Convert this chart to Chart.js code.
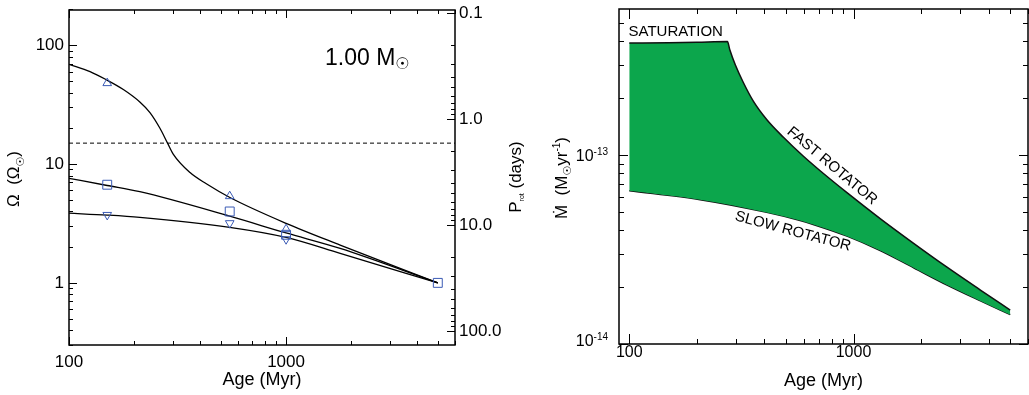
<!DOCTYPE html>
<html>
<head>
<meta charset="utf-8">
<script src="https://cdn.jsdelivr.net/npm/chart.js@4.4.1/dist/chart.umd.min.js"></script>
<style>
    html, body { margin: 0; padding: 0; background: #fff; }
    #wrap { position: relative; width: 1029px; height: 395px; overflow: hidden; }
    #c1 { position: absolute; left: 0; top: 0; }
    #c2 { position: absolute; left: 520px; top: 0; }
</style>
</head>
<body>
<div id="wrap">
    <canvas id="c1" width="540" height="395"></canvas>
    <canvas id="c2" width="509" height="395"></canvas>
</div>
<script>
// ---- left panel: rotation tracks ----
const fastAges = [100, 125, 149, 178, 212, 236, 262, 284, 302, 361, 431, 551, 1000, 1775, 5000];
const fastOmega = [69.2, 60, 51.1, 42.4, 33.3, 27.1, 20.1, 15.09, 12.14, 8.48, 6.79, 5.23, 3.17, 2.08, 1.0];
const mediumAges = [100, 150, 212, 550, 1000, 1775, 5000];
const mediumOmega = [7.59, 6.6, 5.85, 3.64, 2.63, 1.95, 1.0];
const slowAges = [100, 150, 212, 550, 1000, 1775, 5000];
const slowOmega = [3.86, 3.72, 3.56, 2.93, 2.41, 1.77, 1.0];
const saturationAges = [100, 6000];
const saturationOmega = [15, 15];

// observed percentiles (markers)
const upAges = [150, 550, 1000];
const upOmega = [48, 5.37, 2.83];
const squareAges = [150, 550, 1000, 5000];
const squareOmega = [6.7, 3.99, 2.54, 1.0];
const downAges = [150, 550, 1000];
const downOmega = [3.73, 3.18, 2.33];

// ---- right panel: mass loss rates ----
const fastMdotAges = [100, 150, 200, 274, 281, 297, 323, 358, 410, 487, 598, 710, 935, 1315, 1854, 2612, 3681, 5000];
const fastMdot = [3.91e-13, 3.93e-13, 3.95e-13, 3.98e-13, 3.59e-13, 3.0e-13, 2.41e-13, 1.92e-13, 1.54e-13, 1.24e-13, 9.84e-14, 8.25e-14, 6.32e-14, 4.61e-14, 3.41e-14, 2.55e-14, 1.93e-14, 1.51e-14];
const slowMdotAges = [100, 207, 410, 578, 661, 935, 1315, 1854, 2612, 3681, 5000];
const slowMdot = [6.46e-14, 5.8e-14, 4.97e-14, 4.5e-14, 4.29e-14, 3.72e-14, 3.12e-14, 2.53e-14, 2.05e-14, 1.69e-14, 1.43e-14];

// ---- ticks ----
const ageTicks = [100, 200, 300, 400, 500, 600, 700, 800, 900, 1000, 2000, 3000, 4000, 5000, 6000];
const ageMajor = [100, 1000];
const ageLabels = ["100", "1000"];
const omegaTicks = [0.3, 0.4, 0.5, 0.6, 0.7, 0.8, 0.9, 1, 2, 3, 4, 5, 6, 7, 8, 9, 10, 20, 30, 40, 50, 60, 70, 80, 90, 100, 200];
const omegaMajor = [1, 10, 100];
const omegaLabels = ["1", "10", "100"];
const periodTicks = [0.1, 0.2, 0.3, 0.4, 0.5, 0.6, 0.7, 0.8, 0.9, 1, 2, 3, 4, 5, 6, 7, 8, 9, 10, 20, 30, 40, 50, 60, 70, 80, 90, 100];
const periodMajor = [0.1, 1, 10, 100];
const periodLabels = ["0.1", "1.0", "10.0", "100.0"];
const mdotTicks = [1e-14, 2e-14, 3e-14, 4e-14, 5e-14, 6e-14, 7e-14, 8e-14, 9e-14, 1e-13, 2e-13, 3e-13, 4e-13, 5e-13];
const mdotMajor = [1e-14, 1e-13];
const mdotExponents = ["-14", "-13"];

const FONT = '"Liberation Sans", Arial, Helvetica, sans-serif';
const SUN_FONT = '"DejaVu Sans", sans-serif';
const BLUE = "#3b5bb5";
const GREEN = "#0ca64c";

const toPoints = (xs, ys) => xs.map((x, i) => ({ x: x, y: ys[i] }));

// draws text made of pieces with their own size / vertical offset
function drawRich(ctx, parts, x, y, rotation, align) {
    ctx.save();
    ctx.translate(x, y);
    ctx.rotate(rotation);
    ctx.textBaseline = "alphabetic";
    ctx.textAlign = "left";
    let width = 0;
    parts.forEach((p) => {
        ctx.font = `${p.s}px ${p.f || FONT}`;
        width += ctx.measureText(p.t).width;
    });
    let cx = align === "left" ? 0 : -width / 2;
    parts.forEach((p) => {
        ctx.font = `${p.s}px ${p.f || FONT}`;
        ctx.fillText(p.t, cx, p.dy || 0);
        cx += ctx.measureText(p.t).width;
    });
    ctx.restore();
}

function tickMarks(ctx, scale, values, majors, side, area, majorLen, minorLen) {
    values.forEach((v) => {
        const px = Math.round(scale.getPixelForValue(v)) + 0.5;
        const len = majors.includes(v) ? majorLen : minorLen;
        if (side === "bottom") { ctx.moveTo(px, area.bottom); ctx.lineTo(px, area.bottom - len); }
        if (side === "top") { ctx.moveTo(px, area.top); ctx.lineTo(px, area.top + len); }
        if (side === "left") { ctx.moveTo(area.left, px); ctx.lineTo(area.left + len, px); }
        if (side === "right") { ctx.moveTo(area.right, px); ctx.lineTo(area.right - len, px); }
    });
}

const leftDecor = {
    id: "leftDecor",
    afterDraw(chart) {
        const { ctx, chartArea: a, scales: { x, y, p } } = chart;
        ctx.save();
        ctx.strokeStyle = "#000";
        ctx.lineWidth = 1.5;
        ctx.strokeRect(a.left, a.top, a.right - a.left, a.bottom - a.top);
        ctx.lineWidth = 1;
        ctx.beginPath();
        tickMarks(ctx, x, ageTicks, ageMajor, "bottom", a, 8, 4);
        tickMarks(ctx, x, ageTicks, ageMajor, "top", a, 8, 4);
        tickMarks(ctx, y, omegaTicks, omegaMajor, "left", a, 8, 4);
        tickMarks(ctx, p, periodTicks, periodMajor, "right", a, 8, 4);
        ctx.stroke();

        ctx.fillStyle = "#000";
        ctx.font = `17px ${FONT}`;
        ctx.textBaseline = "middle";
        ctx.textAlign = "center";
        ageMajor.forEach((v, i) => ctx.fillText(ageLabels[i], x.getPixelForValue(v), a.bottom + 17));
        ctx.textAlign = "right";
        omegaMajor.forEach((v, i) => ctx.fillText(omegaLabels[i], a.left - 5, y.getPixelForValue(v)));
        ctx.textAlign = "left";
        periodMajor.forEach((v, i) => ctx.fillText(periodLabels[i], a.right + 4, p.getPixelForValue(v)));

        ctx.font = `18px ${FONT}`;
        ctx.textAlign = "center";
        ctx.fillText("Age (Myr)", (a.left + a.right) / 2, 380);

        drawRich(ctx, [
            { t: "Ω  (Ω", s: 17 },
            { t: "☉", s: 11, dy: 5, f: SUN_FONT },
            { t: ")", s: 17 }
        ], 18.5, 179, -Math.PI / 2);

        drawRich(ctx, [
            { t: "P", s: 17 },
            { t: "rot", s: 7, dy: 3 },
            { t: " (days)", s: 17 }
        ], 521, 177, -Math.PI / 2);

        drawRich(ctx, [
            { t: "1.00 M", s: 23 },
            { t: "☉", s: 16, dy: 3.5, f: SUN_FONT }
        ], 325, 65, 0, "left");
        ctx.restore();
    }
};

const rightDecor = {
    id: "rightDecor",
    afterDraw(chart) {
        const { ctx, chartArea: a, scales: { x, y } } = chart;
        ctx.save();
        ctx.strokeStyle = "#000";
        ctx.lineWidth = 1.5;
        ctx.strokeRect(a.left, a.top, a.right - a.left, a.bottom - a.top);
        ctx.lineWidth = 1;
        ctx.beginPath();
        tickMarks(ctx, x, ageTicks, ageMajor, "bottom", a, 10, 5);
        tickMarks(ctx, x, ageTicks, ageMajor, "top", a, 10, 5);
        tickMarks(ctx, y, mdotTicks, mdotMajor, "left", a, 9, 5);
        tickMarks(ctx, y, mdotTicks, mdotMajor, "right", a, 9, 5);
        ctx.stroke();

        ctx.fillStyle = "#000";
        ctx.font = `16px ${FONT}`;
        ctx.textBaseline = "middle";
        ctx.textAlign = "center";
        ageMajor.forEach((v, i) => ctx.fillText(ageLabels[i], x.getPixelForValue(v), a.bottom + 9));

        mdotMajor.forEach((v, i) => {
            const py = Math.min(y.getPixelForValue(v), a.bottom - 4);
            ctx.textBaseline = "alphabetic";
            ctx.font = `10px ${FONT}`;
            const supW = ctx.measureText(mdotExponents[i]).width;
            const right = a.left - 11;
            ctx.textAlign = "left";
            ctx.fillText(mdotExponents[i], right - supW, py);
            ctx.font = `16px ${FONT}`;
            ctx.textAlign = "right";
            ctx.fillText("10", right - supW, py + 5.8);
        });

        ctx.font = `18px ${FONT}`;
        ctx.textAlign = "center";
        ctx.textBaseline = "middle";
        ctx.fillText("Age (Myr)", (a.left + a.right) / 2, 381);

        drawRich(ctx, [
            { t: "Ṁ  (M", s: 17 },
            { t: "☉", s: 11, dy: 4, f: SUN_FONT },
            { t: "yr", s: 17 },
            { t: "-1", s: 10, dy: -7 },
            { t: ")", s: 17 }
        ], 47, 178, -Math.PI / 2);

        ctx.font = `15px ${FONT}`;
        ctx.textAlign = "left";
        ctx.textBaseline = "alphabetic";
        ctx.fillText("SATURATION", 108.5, 36);

        ctx.textAlign = "center";
        ctx.textBaseline = "middle";
        ctx.save();
        ctx.translate(312, 166);
        ctx.rotate(40 * Math.PI / 180);
        ctx.fillText("FAST ROTATOR", 0, 0);
        ctx.restore();
        ctx.save();
        ctx.translate(273, 231.5);
        ctx.rotate(15 * Math.PI / 180);
        ctx.fillText("SLOW ROTATOR", 0, 0);
        ctx.restore();
        ctx.restore();
    }
};

Chart.defaults.font.family = FONT;

const lineStyle = {
    borderColor: "#000",
    borderWidth: 1.3,
    pointRadius: 0,
    cubicInterpolationMode: "monotone",
    fill: false
};

const markerStyle = {
    showLine: false,
    borderColor: BLUE,
    backgroundColor: "rgba(0,0,0,0)",
    pointBorderWidth: 1,
    pointBorderColor: BLUE,
    pointBackgroundColor: "rgba(0,0,0,0)"
};

new Chart(document.getElementById("c1"), {
    type: "line",
    data: {
        datasets: [
            { ...markerStyle, data: toPoints(upAges, upOmega), pointStyle: "triangle", pointRadius: 5 },
            { ...markerStyle, data: toPoints(squareAges, squareOmega), pointStyle: "rect", pointRadius: 6.3 },
            { ...markerStyle, data: toPoints(downAges, downOmega), pointStyle: "triangle", pointRotation: 180, pointRadius: 5 },
            { ...lineStyle, data: toPoints(fastAges, fastOmega) },
            { ...lineStyle, data: toPoints(mediumAges, mediumOmega) },
            { ...lineStyle, data: toPoints(slowAges, slowOmega) },
            { ...lineStyle, data: toPoints(saturationAges, saturationOmega), borderWidth: 1, borderDash: [4, 3], cubicInterpolationMode: "default" }
        ]
    },
    options: {
        responsive: false,
        animation: false,
        events: [],
        layout: { padding: { left: 69, right: 85, top: 10, bottom: 50 } },
        plugins: { legend: { display: false }, tooltip: { enabled: false } },
        scales: {
            x: { type: "logarithmic", min: 100, max: 6000, display: false },
            y: { type: "logarithmic", min: 0.3, max: 198, display: false },
            p: { axis: "y", position: "right", type: "logarithmic", min: 0.093, max: 135.5, reverse: true, display: false }
        }
    },
    plugins: [leftDecor]
});

new Chart(document.getElementById("c2"), {
    type: "line",
    data: {
        datasets: [
            {
                data: toPoints(fastMdotAges, fastMdot),
                borderColor: "#111",
                borderWidth: 1.5,
                pointRadius: 0,
                cubicInterpolationMode: "monotone",
                backgroundColor: GREEN,
                fill: "+1"
            },
            {
                data: toPoints(slowMdotAges, slowMdot),
                borderColor: "#111",
                borderWidth: 1.5,
                pointRadius: 0,
                cubicInterpolationMode: "monotone",
                fill: false
            }
        ]
    },
    options: {
        responsive: false,
        animation: false,
        events: [],
        layout: { padding: { left: 99, right: 1, top: 9, bottom: 51 } },
        plugins: { legend: { display: false }, tooltip: { enabled: false } },
        scales: {
            x: { type: "logarithmic", min: 90, max: 6000, display: false },
            y: { type: "logarithmic", min: 1e-14, max: 5.92e-13, display: false }
        }
    },
    plugins: [rightDecor]
});
</script>
</body>
</html>
